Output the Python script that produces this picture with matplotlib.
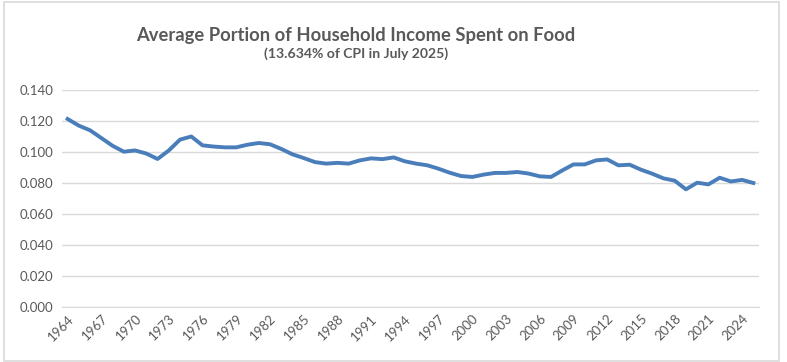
import matplotlib
matplotlib.use("Agg")
import matplotlib.pyplot as plt
from matplotlib.patches import Rectangle

years = list(range(1964, 2026))
share = [0.1213, 0.1170, 0.1140, 0.1090, 0.1040, 0.1002, 0.1010, 0.0990, 0.0955, 0.1010,
         0.1080, 0.1100, 0.1043, 0.1035, 0.1030, 0.1030, 0.1047, 0.1058, 0.1050, 0.1020,
         0.0985, 0.0961, 0.0935, 0.0925, 0.0930, 0.0925, 0.0946, 0.0959, 0.0954, 0.0965,
         0.0940, 0.0925, 0.0914, 0.0892, 0.0866, 0.0845, 0.0839, 0.0854, 0.0865, 0.0865,
         0.0871, 0.0861, 0.0843, 0.0839, 0.0881, 0.0920, 0.0920, 0.0946, 0.0952, 0.0914,
         0.0918, 0.0886, 0.0860, 0.0830, 0.0815, 0.0759, 0.0802, 0.0791, 0.0834, 0.0810,
         0.0820, 0.0800]
yticks = [0.0, 0.02, 0.04, 0.06, 0.08, 0.10, 0.12, 0.14]
xtick_years = list(range(1964, 2026, 3))
title = "Average Portion of Household Income Spent on Food"
subtitle = "(13.634% of CPI in July 2025)"

plt.rcParams['font.family'] = ['Lato', 'DejaVu Sans']
gray = '#595959'

fig = plt.figure(figsize=(7.87, 3.62), dpi=100)
fig.patches.append(Rectangle((4/787, 1/362), 775/787, 359/362, transform=fig.transFigure,
                             fill=False, edgecolor='#d9d9d9', lw=1.2))
ax = fig.add_axes([62/787, 1 - 307/362, 697/787, 217/362])
ax.plot(years, share, color='#4a7ebb', lw=2.8, solid_joinstyle='round')
ax.set_xlim(1963.5, 2025.5)
ax.set_ylim(0, 0.14)
ax.set_yticks(yticks)
ax.set_yticklabels([f"{v:.3f}" for v in yticks], color=gray, fontsize=9.5)
ax.set_xticks(xtick_years)
ax.set_xticklabels([str(y) for y in xtick_years], rotation=45, ha='right',
                   rotation_mode='anchor', color=gray, fontsize=9.5)
ax.grid(axis='y', color='#d9d9d9', lw=1)
ax.set_axisbelow(True)
for s in ['top', 'right', 'left']:
    ax.spines[s].set_visible(False)
ax.spines['bottom'].set_color('#d9d9d9')
ax.tick_params(length=0, pad=6)
ax.tick_params(axis='x', pad=4)

fig.text(356/787, 1 - 35/362, title, ha='center', va='center', fontsize=13.2,
         fontweight='bold', color=gray)
fig.text(356/787, 1 - 54/362, subtitle, ha='center', va='center', fontsize=10.1,
         fontweight='bold', color=gray)

fig.savefig('out.png', dpi=100)
